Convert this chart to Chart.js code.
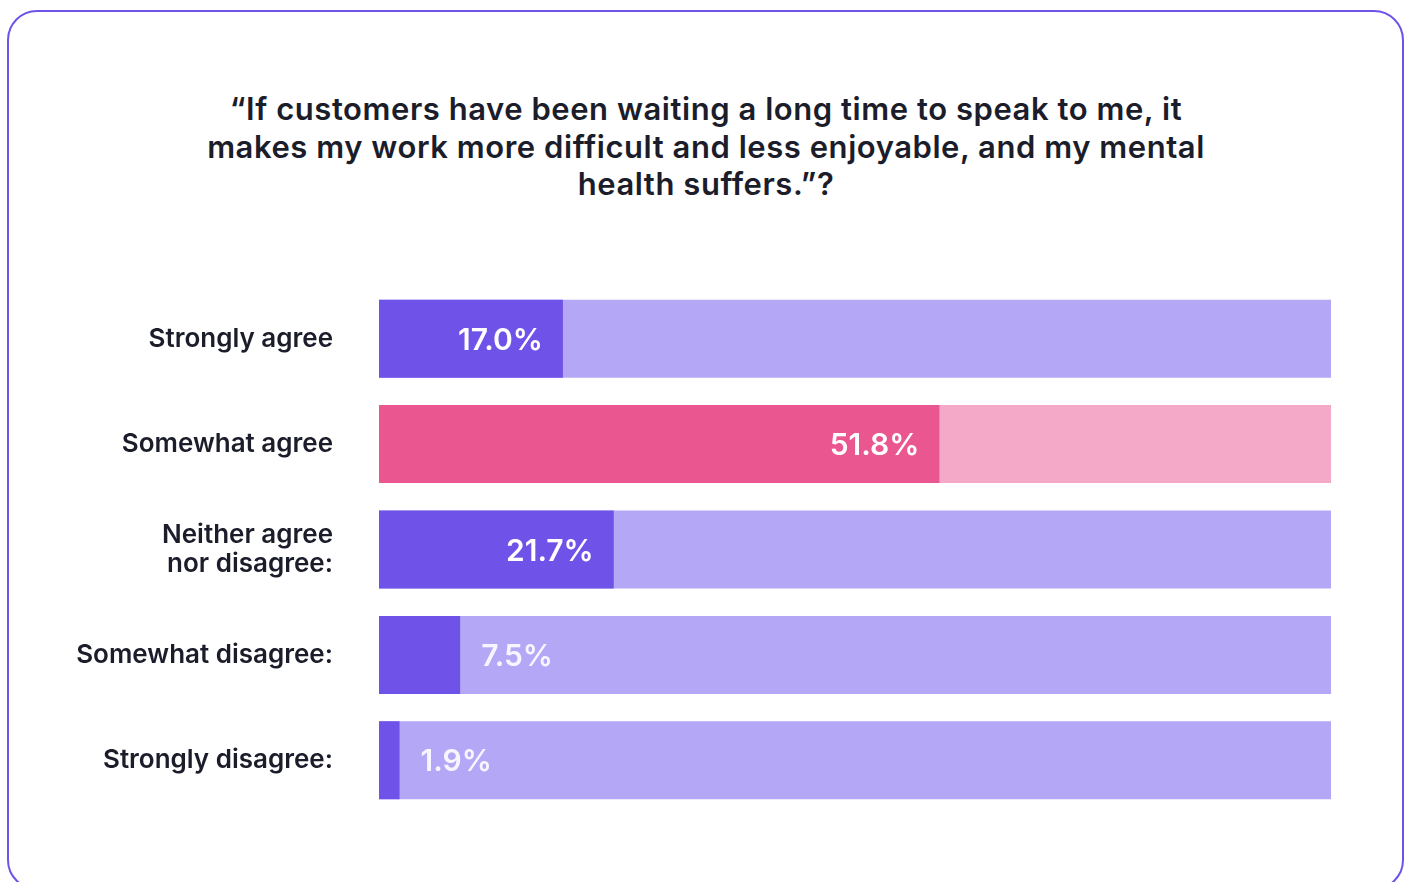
<!DOCTYPE html>
<html>
<head>
<meta charset="utf-8">
<script src="https://cdn.jsdelivr.net/npm/chart.js@4"></script>
<style>
  html, body { margin: 0; padding: 0; background: #ffffff; }
  body { width: 1409px; height: 882px; position: relative; overflow: hidden; }
  #card { position: absolute; left: 7px; top: 10px; width: 1397px; height: 880px;
          border: 2px solid #6f52e8; border-radius: 30px; box-sizing: border-box; }
  #title { position: absolute; left: 0; top: 90px; width: 1412px; text-align: center;
           font-family: Inter, "Open Sans", sans-serif; font-weight: 600; font-size: 31px;
           line-height: 37.5px; color: #1c1d2b; letter-spacing: 0.55px; }
  #c { position: absolute; left: 0; top: 0; }
</style>
</head>
<body>
<div id="card"></div>
<div id="title">“If customers have been waiting a long time to speak to me, it<br>makes my work more difficult and less enjoyable, and my mental<br>health suffers.”?</div>
<canvas id="c" width="1409" height="882"></canvas>
<script>
const categories = [
  "Strongly agree",
  "Somewhat agree",
  ["Neither agree", "nor disagree:"],
  "Somewhat disagree:",
  "Strongly disagree:"
];
const values = [17.0, 51.8, 21.7, 7.5, 1.9];
const axisMax = 88;
const trackValues = [88, 88, 88, 88, 88];
const fillColors = ["#6f52e8", "#ea5690", "#6f52e8", "#6f52e8", "#6f52e8"];
const trackColors = ["#b4a7f5", "#f4a9c9", "#b4a7f5", "#b4a7f5", "#b4a7f5"];

const labelPlugin = {
  id: 'valueLabels',
  afterDatasetsDraw(chart) {
    const ctx = chart.ctx;
    const meta = chart.getDatasetMeta(0);
    ctx.save();
    ctx.font = '600 30px Inter, "Open Sans", sans-serif';
    ctx.textBaseline = 'middle';
    meta.data.forEach((bar, i) => {
      const txt = values[i].toFixed(1) + '%';
      const w = bar.x - bar.base;
      if (w > 110) {
        ctx.fillStyle = '#ffffff';
        ctx.textAlign = 'right';
        ctx.fillText(txt, bar.x - 20, bar.y + 2);
      } else {
        ctx.fillStyle = '#f7f5ff';
        ctx.textAlign = 'left';
        ctx.fillText(txt, bar.x + 21, bar.y + 2);
      }
    });
    ctx.restore();
  }
};

new Chart(document.getElementById('c'), {
  type: 'bar',
  data: {
    labels: categories,
    datasets: [
      { data: values, backgroundColor: fillColors, barPercentage: 0.74, categoryPercentage: 1, grouped: false },
      { data: trackValues, backgroundColor: trackColors, barPercentage: 0.74, categoryPercentage: 1, grouped: false }
    ]
  },
  options: {
    indexAxis: 'y',
    responsive: false,
    animation: false,
    layout: { padding: { left: 0, right: 78, top: 286, bottom: 69 } },
    plugins: { legend: { display: false }, tooltip: { enabled: false }, title: { display: false } },
    scales: {
      x: { display: false, min: 0, max: axisMax },
      y: {
        grid: { display: false, drawTicks: false },
        border: { display: false },
        ticks: {
          color: '#1c1d2b',
          padding: 46,
          font: { family: 'Inter, "Open Sans", sans-serif', size: 26, weight: '600', lineHeight: 1.1 }
        },
        afterFit(scale) { scale.width = 379; }
      }
    }
  },
  plugins: [labelPlugin]
});
</script>
</body>
</html>
